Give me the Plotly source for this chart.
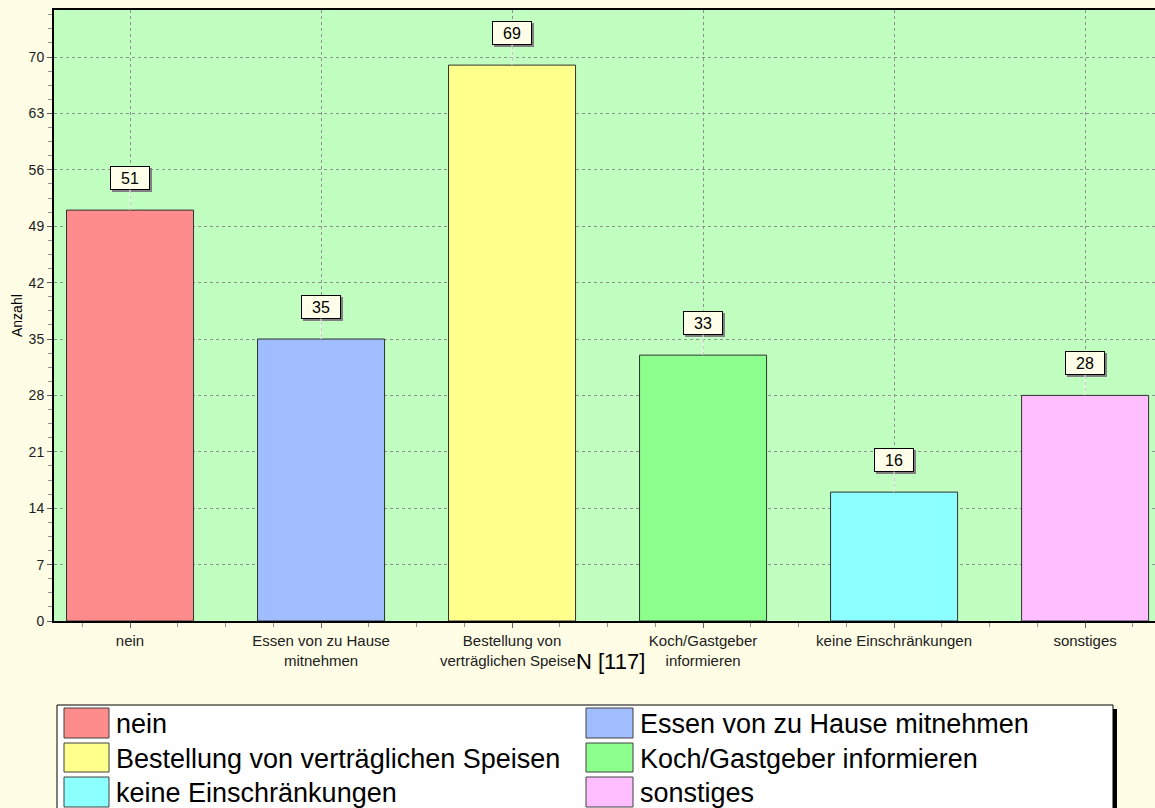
import plotly.graph_objects as go

# ---------------- data ----------------
categories = ["nein", "Essen von zu Hause mitnehmen", "Bestellung von verträglichen Speisen",
              "Koch/Gastgeber informieren", "keine Einschränkungen", "sonstiges"]
tick_labels = ["nein", "Essen von zu Hause<br>mitnehmen", "Bestellung von<br>verträglichen Speisen",
               "Koch/Gastgeber<br>informieren", "keine Einschränkungen", "sonstiges"]
values = [51, 35, 69, 33, 16, 28]
bar_colors = ["#FF8C8C", "#A0BEFF", "#FFFF8C", "#8CFF8C", "#8CFFFF", "#FFBEFF"]
y_ticks = [0, 7, 14, 21, 28, 35, 42, 49, 56, 63, 70]
n_total_label = "N [117]"
y_title = "Anzahl"

# ---------------- layout constants (pixels) ----------------
FW, FH = 1155, 808
L, R, T, B = 54, 1155, 10, 621
PW, PH = R - L, B - T
FONT = "Liberation Sans, Arial, sans-serif"
PAPER = "#FFFDE6"


def px(xp):
    return (xp - L) / PW


def py(yp):
    return (B - yp) / PH


xpos = list(range(len(categories)))

fig = go.Figure()
fig.add_trace(go.Bar(
    x=xpos, y=values, width=0.665,
    marker=dict(color=bar_colors, line=dict(color="#303030", width=1)),
    showlegend=False, hoverinfo="skip",
))

annotations = []
# value label shadows
for x, v in zip(xpos, values):
    annotations.append(dict(
        x=x, y=v, xref="x", yref="y", text=str(v), showarrow=True,
        arrowcolor="rgba(0,0,0,0)", ax=0, ay=-32, xshift=2, yshift=-2,
        font=dict(family=FONT, size=16, color="#808080"),
        bgcolor="#808080", bordercolor="#808080", borderwidth=1, borderpad=1,
        width=36, height=20,
    ))
# value labels with connector lines
for x, v in zip(xpos, values):
    annotations.append(dict(
        x=x, y=v, xref="x", yref="y", text=str(v), showarrow=True,
        arrowhead=0, arrowcolor="#F4F4F4", arrowwidth=1, ax=0, ay=-32, standoff=0,
        font=dict(family=FONT, size=16, color="#000000"),
        bgcolor="#FFFEE8", bordercolor="#000000", borderwidth=1, borderpad=1,
        width=36, height=20,
    ))

# N label
annotations.append(dict(
    x=px(610), y=py(661), xref="paper", yref="paper", text=n_total_label,
    showarrow=False, font=dict(family=FONT, size=22, color="#000000"),
    bgcolor=PAPER, borderpad=0, xanchor="center", yanchor="middle",
))
# y-axis title
annotations.append(dict(
    x=px(17), y=py(316), xref="paper", yref="paper", text=y_title, textangle=-90,
    showarrow=False, font=dict(family=FONT, size=14, color="#000000"),
    xanchor="center", yanchor="middle",
))

# ---------------- manual legend ----------------
shapes = []
LG_L, LG_R, LG_T, LG_B = 57, 1113, 705, 815
shapes.append(dict(type="rect", xref="paper", yref="paper",
                   x0=px(LG_L + 4), x1=px(LG_R + 4), y0=py(LG_B), y1=py(LG_T + 4),
                   fillcolor="#000000", line=dict(width=0), layer="above"))
shapes.append(dict(type="rect", xref="paper", yref="paper",
                   x0=px(LG_L), x1=px(LG_R), y0=py(LG_B), y1=py(LG_T),
                   fillcolor="#FFFFFF", line=dict(color="#000000", width=1), layer="above"))
col_swatch_x = [(64, 109), (586, 633)]
col_text_x = [114, 638]
row_y = [(708, 738), (743, 772), (777, 807)]
for i, (name, col) in enumerate(zip(categories, bar_colors)):
    r, c = divmod(i, 2)
    sx0, sx1 = col_swatch_x[c]
    sy0, sy1 = row_y[r]
    shapes.append(dict(type="rect", xref="paper", yref="paper",
                       x0=px(sx0), x1=px(sx1), y0=py(sy1), y1=py(sy0),
                       fillcolor=col, line=dict(color="#404040", width=1), layer="above"))
    annotations.append(dict(
        x=px(col_text_x[c]), y=py((sy0 + sy1) / 2 + 1), xref="paper", yref="paper",
        text=name, showarrow=False, xanchor="left", yanchor="middle",
        font=dict(family=FONT, size=27, color="#000000"),
    ))

fig.update_layout(
    width=FW, height=FH,
    margin=dict(l=L, r=FW - R, t=T, b=FH - B, pad=0),
    paper_bgcolor=PAPER, plot_bgcolor="#C0FFC0",
    font=dict(family=FONT, size=12, color="#202020"),
    showlegend=False, bargap=0.335,
    annotations=annotations, shapes=shapes,
    xaxis=dict(
        range=[-0.398, 5.366], tickmode="array", tickvals=xpos, ticktext=tick_labels,
        showgrid=True, gridcolor="#909090", griddash="3px,3px", gridwidth=1,
        showline=True, linecolor="#000000", linewidth=2, mirror=True,
        ticks="outside", ticklen=5, tickcolor="#606060", ticklabelstandoff=0,
        minor=dict(dtick=0.25, tick0=0, ticks="outside", ticklen=4, tickcolor="#909090", showgrid=False),
        tickfont=dict(family=FONT, size=15, color="#202020"),
        zeroline=False, fixedrange=True,
    ),
    yaxis=dict(
        range=[0, 75.84], tickmode="array", tickvals=y_ticks,
        showgrid=True, gridcolor="#909090", griddash="3px,3px", gridwidth=1,
        showline=True, linecolor="#000000", linewidth=2,
        ticks="outside", ticklen=5, tickcolor="#606060",
        minor=dict(dtick=1.75, tick0=0, ticks="outside", ticklen=4, tickcolor="#909090", showgrid=False),
        tickfont=dict(family=FONT, size=14, color="#202020"),
        zeroline=False, fixedrange=True,
    ),
)

fig.write_html("out.html", config={"displayModeBar": False},
               post_script="document.body.style.margin='0';document.body.style.background='" + PAPER + "';")
